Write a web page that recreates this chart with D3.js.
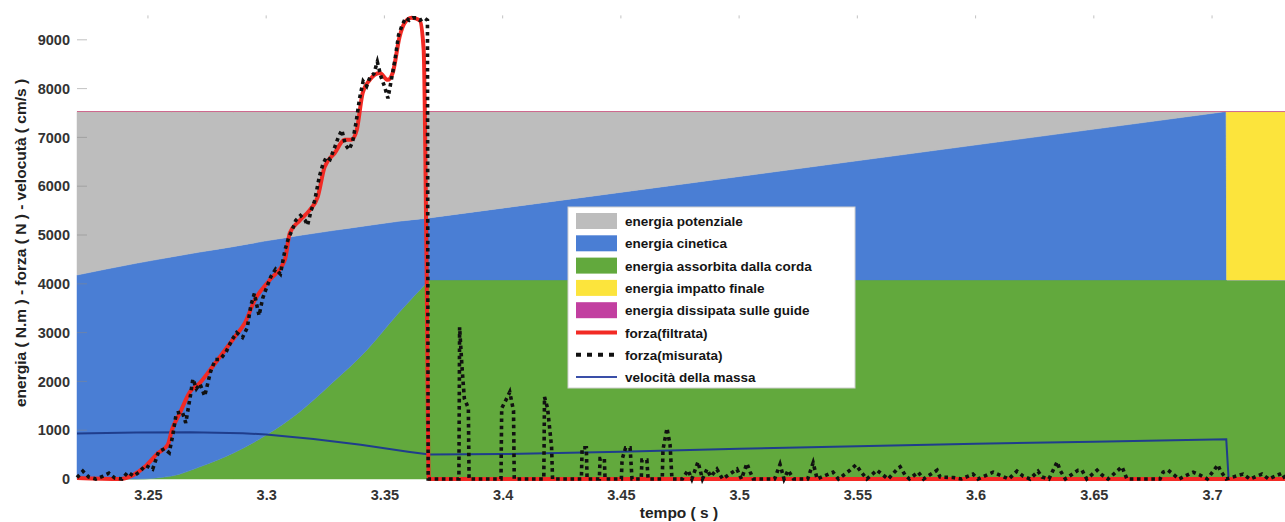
<!DOCTYPE html>
<html><head><meta charset="utf-8">
<script src="https://cdn.jsdelivr.net/npm/d3@7"></script>
<style>
html,body{margin:0;padding:0;background:#fff;}
svg{display:block;font-family:"Liberation Sans",Arial,sans-serif;}
</style></head>
<body>
<svg id="chart" width="1285" height="522"></svg>
<script>
// ---------- data ----------
const xTicks = [3.25, 3.3, 3.35, 3.4, 3.45, 3.5, 3.55, 3.6, 3.65, 3.7];
const xTickLabels = ["3.25","3.3","3.35","3.4","3.45","3.5","3.55","3.6","3.65","3.7"];
const yTicks = [0,1000,2000,3000,4000,5000,6000,7000,8000,9000];

// energy (stacked areas)
const timeE      = [3.22, 3.245, 3.26, 3.272, 3.286, 3.30, 3.314, 3.328, 3.3425, 3.356, 3.369, 3.706, 3.7062, 3.731];
const absorbed   = [0,    0,     60,   250,   530,   900,  1370,  1970,  2640,   3400,  4080,  4080,  4080,   4080];
const kinetic    = [4180, 4420,  4490, 4400,  4230,  3980, 3620,  3120,  2550,   1880,  1270,  3450,  0,      0];
const potential  = [3350, 3110,  2980, 2880,  2770,  2650, 2540,  2440,  2340,   2250,  2180,  0,     0,      0];
const impact     = [0,    0,     0,    0,     0,     0,    0,     0,     0,      0,     0,     0,     3450,   3450];
const dissipated = [0,    0,     0,    0,     0,     0,    0,     0,     0,      0,     0,     0,     0,      0];

// velocity of the mass
const timeV = [3.22, 3.245, 3.268, 3.29, 3.30, 3.32, 3.34, 3.36, 3.369, 3.40, 3.45, 3.50, 3.55, 3.60, 3.65, 3.706, 3.707, 3.731];
const velocity = [930, 955, 960, 940, 910, 820, 700, 560, 500, 510, 560, 620, 670, 720, 765, 815, 0, 0];

// filtered force
const timeF = [3.22, 3.2382, 3.2437, 3.2487, 3.2542, 3.2584, 3.2601, 3.2635, 3.2677, 3.272, 3.2762, 3.2804, 3.2867, 3.291, 3.2952, 3.3015, 3.3079, 3.31, 3.3142, 3.3184, 3.3218, 3.3247, 3.329, 3.3332, 3.3361, 3.3383, 3.3408, 3.3438, 3.348, 3.3514, 3.3535, 3.3564, 3.3585, 3.3615, 3.3649, 3.3666, 3.3678, 3.3688, 3.731];
const forceF = [20, 0, 80, 250, 530, 700, 1000, 1350, 1780, 1970, 2230, 2500, 2910, 3200, 3670, 4080, 4490, 5040, 5300, 5510, 5780, 6390, 6680, 6950, 6950, 7150, 7910, 8180, 8320, 8180, 8320, 9060, 9340, 9450, 9400, 8800, 4500, 0, 0];

// measured force
const timeM = [3.220,3.2225,3.225,3.228,3.231,3.2335,3.236,3.239,3.2415,3.244,3.2465,3.249,3.252,3.2545,3.257,3.259,3.2605,3.262,3.2645,3.266,3.268,3.269,3.2705,3.272,3.274,3.2765,3.2785,3.2805,3.283,3.2855,3.2875,3.290,3.292,3.2935,3.295,3.297,3.2985,3.300,3.302,3.304,3.306,3.308,3.3095,3.311,3.3125,3.3145,3.3165,3.3175,3.319,3.3205,3.3225,3.324,3.3255,3.327,3.329,3.3305,3.332,3.3335,3.335,3.3365,3.338,3.3395,3.341,3.3425,3.344,3.3455,3.347,3.3485,3.350,3.3515,3.353,3.3545,3.356,3.3575,3.359,3.3605,3.362,3.3635,3.365,3.3668,3.3682,3.3685,
3.3815,3.3818,3.3828,3.3838,3.3855,3.3858,3.3993,3.3996,3.4012,3.4030,3.4046,3.4049,3.4174,3.4177,3.4190,3.4207,3.4211,3.4333,3.4336,3.4354,3.4357,3.4409,3.4412,3.4430,3.4433,3.4502,3.4505,3.4520,3.4539,3.4547,3.4586,3.4589,3.4610,3.4615,3.4675,3.4678,3.4695,3.4708,3.4716,3.4760,3.4784,3.4800,3.4826,3.4845,3.4864,3.4880,3.4906,3.4930,3.4991,3.5010,3.5033,3.5046,3.5060,3.5150,3.5173,3.5190,3.5207,3.5230,3.5290,3.5313,3.5330,3.5397,3.5420,3.5469,3.5494,3.5520,3.5540,3.5583,3.5609,3.5630,3.5672,3.5681,3.5702,3.5720,3.5757,3.5780,3.5837,3.5850,3.5905,3.5940,3.5989,3.6010,3.6074,3.6112,3.6140,3.6175,3.6201,3.6230,3.6264,3.6281,3.6310,3.6345,3.6357,3.6380,3.6433,3.6450,3.6470,3.6514,3.6535,3.6560,3.6603,3.6619,3.6640,3.6780,3.6793,3.6814,3.6835,3.6860,3.6920,3.6949,3.6980,3.7025,3.7034,3.7060,3.7131,3.7160,3.7211,3.7240,3.7296,3.731];
const forceM = [30,160,40,0,60,120,20,0,140,60,150,280,200,560,620,540,900,1350,1380,1150,1720,2050,1850,1950,1700,2200,2450,2450,2600,2850,3000,2900,3100,3550,3800,3350,3700,3900,4150,4300,4200,4700,4950,5100,5300,5400,5300,5200,5500,5700,6200,6450,6600,6550,6800,7000,7150,6850,6750,6900,7300,7800,8150,8050,8250,8300,8550,8250,8050,7800,8200,8600,9100,9300,9450,9400,9450,9450,9400,9450,9400,0,
0,3110,2300,1650,1450,0,0,1450,1600,1780,1400,0,0,1680,1450,650,0,0,640,640,0,0,420,420,0,0,400,640,640,0,0,390,390,0,0,600,1040,700,0,0,180,0,350,0,200,50,200,0,200,0,320,150,0,0,300,0,180,0,0,330,0,140,0,180,290,120,0,180,80,0,220,250,80,0,140,0,180,40,30,0,100,0,140,60,0,160,60,0,160,40,0,350,180,0,180,180,0,180,80,0,180,250,0,0,140,180,100,0,140,80,0,290,180,0,100,0,100,0,120,0];

const legendLabels = ["energia potenziale","energia cinetica","energia assorbita dalla corda","energia impatto finale","energia dissipata sulle guide","forza(filtrata)","forza(misurata)","velocità della massa"];

// ---------- drawing ----------
const colors = {potential:"#bdbdbd", kinetic:"#4a7ed4", absorbed:"#62a93d", impact:"#fce43c", dissipated:"#c23fa0",
                red:"#f22a24", black:"#111", vel:"#1f3d8c"};

const svg = d3.select("#chart");
const x = d3.scaleLinear().domain([3.22, 3.73]).range([77, 1283]);
const y = d3.scaleLinear().domain([0, 9500]).range([479, 15.4]);

const rows = timeE.map((t,i)=>({t, absorbed:absorbed[i], kinetic:kinetic[i], potential:potential[i], impact:impact[i], dissipated:dissipated[i]}));
const keys = ["absorbed","kinetic","potential","impact","dissipated"];
const stack = d3.stack().keys(keys)(rows);
const tBreak = 3.369;
const areaCurved = d3.area().x(d=>x(d.data.t)).y0(d=>y(d[0])).y1(d=>y(d[1])).curve(d3.curveMonotoneX);
const areaLinear = d3.area().x(d=>x(d.data.t)).y0(d=>y(d[0])).y1(d=>y(d[1]));
const gA = svg.append("g");
stack.forEach(layer=>{
  const pre = layer.filter(d=>d.data.t <= tBreak);
  const post = layer.filter(d=>d.data.t >= tBreak);
  gA.append("path").attr("d", areaCurved(pre)).attr("fill", colors[layer.key]).attr("stroke", colors[layer.key]).attr("stroke-width",0.5);
  gA.append("path").attr("d", areaLinear(post)).attr("fill", colors[layer.key]).attr("stroke", colors[layer.key]).attr("stroke-width",0.5);
});

// ticks (inward) left and top
const tickG = svg.append("g").attr("stroke","#888").attr("stroke-width",1).attr("opacity",0.5);
tickG.selectAll("line.yt").data(yTicks).join("line").attr("class","yt")
  .attr("x1",x(3.22)).attr("x2",x(3.22)+10).attr("y1",d=>y(d)).attr("y2",d=>y(d));
tickG.selectAll("line.xt").data(xTicks).join("line").attr("class","xt")
  .attr("x1",d=>x(d)).attr("x2",d=>x(d)).attr("y1",y(9500)).attr("y2",y(9500)+3);

// axis labels via d3 axes
const yAxis = svg.append("g").attr("transform",`translate(${x(3.22)},0)`)
  .call(d3.axisLeft(y).tickValues(yTicks).tickSize(0).tickPadding(7).tickFormat(d3.format("d")));
yAxis.select(".domain").remove();
yAxis.selectAll("text").attr("font-size",14.5).attr("font-weight","bold").attr("fill","#333").attr("font-family","Liberation Sans, Arial, sans-serif");

const xAxis = svg.append("g").attr("transform",`translate(0,${y(0)})`)
  .call(d3.axisBottom(x).tickValues(xTicks).tickSize(0).tickPadding(11).tickFormat((d,i)=>xTickLabels[i]));
xAxis.select(".domain").remove();
xAxis.selectAll("text").attr("font-size",14.5).attr("font-weight","bold").attr("fill","#333").attr("font-family","Liberation Sans, Arial, sans-serif");

// velocity
const lineV = d3.line().x((d,i)=>x(timeV[i])).y(d=>y(d));
svg.append("path").attr("d", lineV(velocity)).attr("fill","none").attr("stroke",colors.vel).attr("stroke-width",2);

// filtered force
const lineF = d3.line().x((d,i)=>x(timeF[i])).y(d=>y(d)).curve(d3.curveMonotoneX);
svg.append("path").attr("d", lineF(forceF)).attr("fill","none").attr("stroke",colors.red).attr("stroke-width",4);

// measured force
const lineM = d3.line().x((d,i)=>x(timeM[i])).y(d=>y(d));
svg.append("path").attr("d", lineM(forceM)).attr("fill","none").attr("stroke",colors.black)
  .attr("stroke-width",3.6).attr("stroke-dasharray","3.6,3.6");

// axis titles
svg.append("text").attr("x",679).attr("y",518).attr("text-anchor","middle")
  .attr("font-size",15.5).attr("font-weight","bold").attr("fill","#222").text("tempo ( s )");
svg.append("text").attr("transform","translate(26,243) rotate(-90)").attr("text-anchor","middle")
  .attr("font-size",15.5).attr("font-weight","bold").attr("fill","#222")
  .text("energia ( N.m )  -  forza ( N )  -  velocutà ( cm/s )");

// legend
const lg = svg.append("g").attr("transform","translate(568,207)");
lg.append("rect").attr("width",287).attr("height",181).attr("fill","#fff").attr("stroke","#cfcfcf").attr("stroke-width",1);
const patchColors = [colors.potential, colors.kinetic, colors.absorbed, colors.impact, colors.dissipated];
legendLabels.forEach((lab,i)=>{
  const cy = 14 + i*22.3;
  if (i < 5) {
    lg.append("rect").attr("x",8).attr("y",cy-8).attr("width",41).attr("height",16).attr("fill",patchColors[i]);
  } else if (i === 5) {
    lg.append("line").attr("x1",8).attr("x2",49).attr("y1",cy).attr("y2",cy).attr("stroke",colors.red).attr("stroke-width",4);
  } else if (i === 6) {
    lg.append("line").attr("x1",8).attr("x2",49).attr("y1",cy).attr("y2",cy).attr("stroke",colors.black).attr("stroke-width",4).attr("stroke-dasharray","5,6");
  } else {
    lg.append("line").attr("x1",8).attr("x2",49).attr("y1",cy).attr("y2",cy).attr("stroke","#3a4fa8").attr("stroke-width",2);
  }
  lg.append("text").attr("x",57).attr("y",cy+5).attr("font-size",13.5).attr("font-weight","bold").attr("fill","#151515").text(lab);
});
</script>
</body></html>
